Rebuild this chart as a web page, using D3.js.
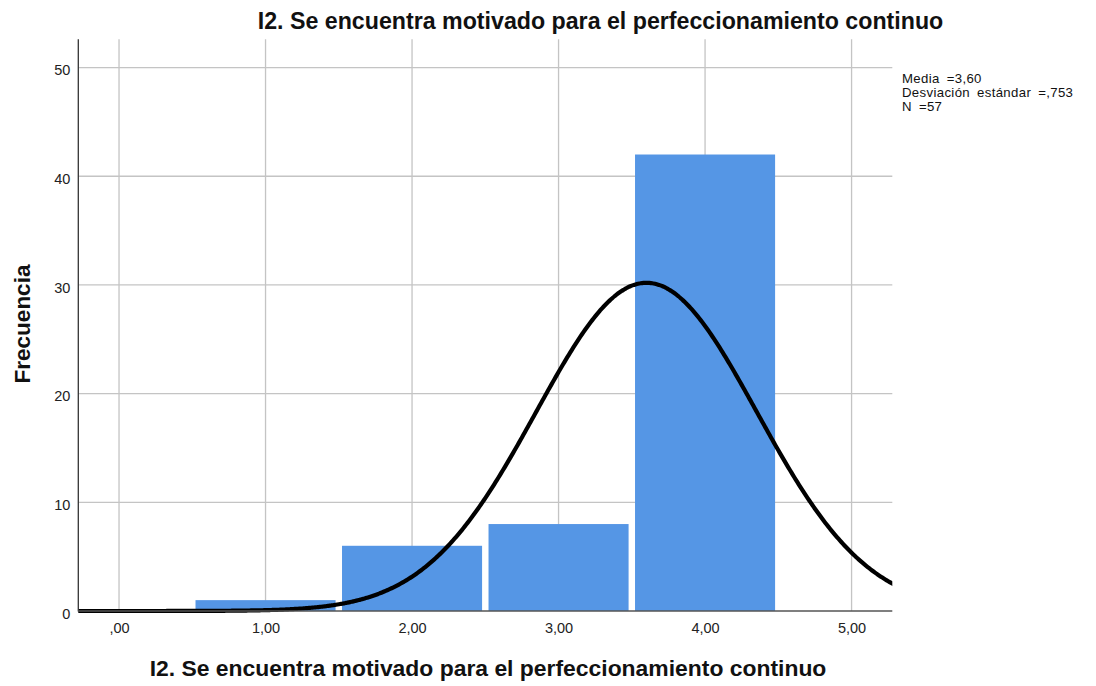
<!DOCTYPE html>
<html>
<head>
<meta charset="utf-8">
<script src="https://cdn.jsdelivr.net/npm/d3@7"></script>
<style>
  html, body { margin: 0; padding: 0; background: #ffffff; }
  svg { display: block; font-family: "Liberation Sans", Arial, sans-serif; }
</style>
</head>
<body>
<svg id="chart" width="1096" height="686"></svg>
<script>
// ---- data ----
const categories = [1, 2, 3, 4];
const frequencies = [1, 6, 8, 42];
const xTickValues = [0, 1, 2, 3, 4, 5];
const xTickLabels = [",00", "1,00", "2,00", "3,00", "4,00", "5,00"];
const yTickValues = [0, 10, 20, 30, 40, 50];
const statMean = 3.60;
const statSd = 0.753;
const statN = 57;
const statLabels = ["Media =3,60", "Desviación estándar =,753", "N =57"];
const titleText = "I2. Se encuentra motivado para el perfeccionamiento continuo";
const xTitleText = "I2. Se encuentra motivado para el perfeccionamiento continuo";
const yTitleText = "Frecuencia";

// ---- layout ----
const W = 1096, H = 686;
const plot = { left: 78.3, right: 892.3, top: 39.3, bottom: 611 };
const svg = d3.select("#chart");

const x = d3.scaleLinear().domain([-0.278, 5.278]).range([plot.left, plot.right]);
const y = d3.scaleLinear().domain([0, 52.6]).range([plot.bottom, plot.top]);

// gridlines
const grid = svg.append("g");
grid.selectAll("line.h").data(yTickValues.filter(d => d > 0)).join("line")
  .attr("x1", plot.left).attr("x2", plot.right)
  .attr("y1", d => y(d)).attr("y2", d => y(d))
  .attr("stroke", "#c4c4c4").attr("stroke-width", 1.3);
grid.selectAll("line.v").data(xTickValues).join("line")
  .attr("x1", d => x(d)).attr("x2", d => x(d))
  .attr("y1", plot.top).attr("y2", plot.bottom)
  .attr("stroke", "#c4c4c4").attr("stroke-width", 1.3);

// bars
const halfW = 0.478;
svg.append("g").selectAll("rect").data(categories).join("rect")
  .attr("x", d => x(d - halfW))
  .attr("width", d => x(d + halfW) - x(d - halfW))
  .attr("y", (d, i) => y(frequencies[i]))
  .attr("height", (d, i) => y(0) - y(frequencies[i]))
  .attr("fill", "#5596e5");

// normal curve from stated statistics
const clipId = "plotclip";
svg.append("clipPath").attr("id", clipId).append("rect")
  .attr("x", plot.left).attr("y", plot.top - 5)
  .attr("width", plot.right - plot.left).attr("height", plot.bottom - plot.top + 10);
const xs = d3.range(-0.3, 5.3001, 0.01);
const dens = v => statN * Math.exp(-0.5 * Math.pow((v - statMean) / statSd, 2)) / (statSd * Math.sqrt(2 * Math.PI));
svg.append("path")
  .datum(xs)
  .attr("clip-path", `url(#${clipId})`)
  .attr("fill", "none").attr("stroke", "#000").attr("stroke-width", 4.2)
  .attr("stroke-linejoin", "round")
  .attr("d", d3.line().x(d => x(d)).y(d => y(dens(d))).curve(d3.curveBasis));

// axes lines
svg.append("line").attr("x1", plot.left).attr("x2", plot.left)
  .attr("y1", plot.top).attr("y2", plot.bottom + 0.5)
  .attr("stroke", "#333").attr("stroke-width", 1.3);
svg.append("line").attr("x1", plot.left).attr("x2", plot.right)
  .attr("y1", plot.bottom).attr("y2", plot.bottom)
  .attr("stroke", "#555").attr("stroke-width", 1.6);

// y tick labels
const yAxis = d3.axisLeft(y).tickValues(yTickValues).tickSize(0).tickPadding(8).tickFormat(d3.format("d"));
const yg = svg.append("g").attr("transform", `translate(${plot.left},0)`).call(yAxis);
yg.select(".domain").remove();
yg.selectAll("text").attr("font-size", 14.5).attr("fill", "#222")
  .attr("font-family", "Liberation Sans, Arial, sans-serif").attr("dy", "0.5em");

// x tick labels
const xAxis = d3.axisBottom(x).tickValues(xTickValues).tickSize(0).tickPadding(12)
  .tickFormat((d, i) => xTickLabels[i]);
const xg = svg.append("g").attr("transform", `translate(0,${plot.bottom})`).call(xAxis);
xg.select(".domain").remove();
xg.selectAll("text").attr("font-size", 14.5).attr("fill", "#222")
  .attr("font-family", "Liberation Sans, Arial, sans-serif");

// titles
svg.append("text").attr("x", 600.5).attr("y", 29.3).attr("text-anchor", "middle")
  .attr("font-size", 23.2).attr("font-weight", "bold").attr("fill", "#111").text(titleText);
svg.append("text").attr("x", 488).attr("y", 676).attr("text-anchor", "middle")
  .attr("font-size", 22.9).attr("font-weight", "bold").attr("fill", "#111").text(xTitleText);
svg.append("text").attr("transform", "translate(29.5,324) rotate(-90)").attr("text-anchor", "middle")
  .attr("font-size", 22.5).attr("font-weight", "bold").attr("fill", "#111").text(yTitleText);

// stats legend
svg.append("g").selectAll("text").data(statLabels).join("text")
  .attr("x", 902).attr("y", (d, i) => 82.5 + i * 14)
  .attr("font-size", 13.2).attr("letter-spacing", 0.35).attr("word-spacing", 3)
  .attr("fill", "#111").text(d => d);
</script>
</body>
</html>
